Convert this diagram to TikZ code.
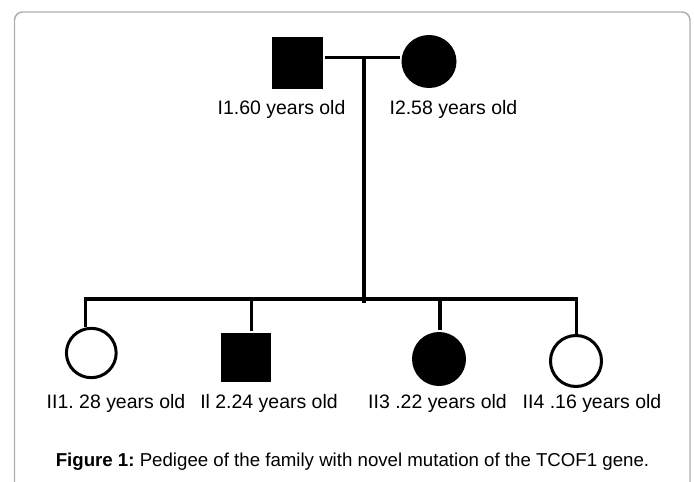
\documentclass[tikz,border=0pt]{standalone}
\usepackage{fontspec}
\setmainfont{Liberation Sans}
\usepackage{tikz}
\usetikzlibrary{shapes.geometric}
\frenchspacing

\begin{document}
\begin{tikzpicture}[x=0.75pt, y=-0.75pt, line width=2.4pt]
\useasboundingbox (0,0) rectangle (694,482);
% frame
\draw[line width=1.1pt, color=black!32, rounded corners=6pt] (14.5,500) -- (14.5,12) -- (690,12) -- (690,500);

% generation I
\node[minimum width=38.25pt, minimum height=39pt, fill, rectangle, inner sep=0pt] (F) at (297.5,62.5) {};
\node[minimum width=41.25pt, minimum height=39.75pt, fill, ellipse, inner sep=0pt] (M) at (429,61.5) {};
\node[anchor=base east, font=\fontsize{14.6}{17}\selectfont, inner sep=0pt] (LF) at (347,114) {I1.60 years old};
\node[anchor=base west, font=\fontsize{14.6}{17}\selectfont, inner sep=0pt] (LM) at (388,114) {I2.58 years old};

% generation II
\node[minimum width=37.3pt, minimum height=37pt, draw, line width=2.25pt, ellipse, inner sep=0pt] (C1) at (91.3,353) {};
\node[minimum width=37.5pt, minimum height=36.75pt, fill, rectangle, inner sep=0pt] (C2) at (245.5,357.5) {};
\node[minimum width=40.5pt, minimum height=40.5pt, fill, ellipse, inner sep=0pt] (C3) at (439,359) {};
\node[minimum width=38.25pt, minimum height=38.25pt, draw, line width=2.25pt, ellipse, inner sep=0pt] (C4) at (576,361) {};
\node[anchor=base, font=\fontsize{14.6}{17}\selectfont] (L1) at (116,408) {II1. 28 years old};
\node[anchor=base, font=\fontsize{14.6}{17}\selectfont] (L2) at (269,408) {Il 2.24 years old};
\node[anchor=base, font=\fontsize{14.6}{17}\selectfont] (L3) at (437.5,408) {II3 .22 years old};
\node[anchor=base, font=\fontsize{14.6}{17}\selectfont] (L4) at (592,408) {II4 .16 years old};

% caption
\node[anchor=base, font=\fontsize{14}{17}\selectfont] (cap) at (352.5,466) {\textbf{Figure 1:} Pedigee of the family with novel mutation of the TCOF1 gene.};

% lines
\coordinate (mate) at (364,57.5);
\coordinate (sib) at (364,303);
\coordinate (d1) at (85.7,299);
\coordinate (d2) at (251.7,299);
\coordinate (d3) at (440,299);
\coordinate (d4) at (576.7,299);
\draw[line width=2.25pt] (mate -| F.east) -- (mate -| M.west);
\draw (mate) -- (sib);
\draw (d1 |- C1.north) |- (d4) -- (d4 |- C4.north);
\draw (d2) -- (d2 |- C2.north);
\draw (d3) -- (d3 |- C3.north);
\end{tikzpicture}
\end{document}
